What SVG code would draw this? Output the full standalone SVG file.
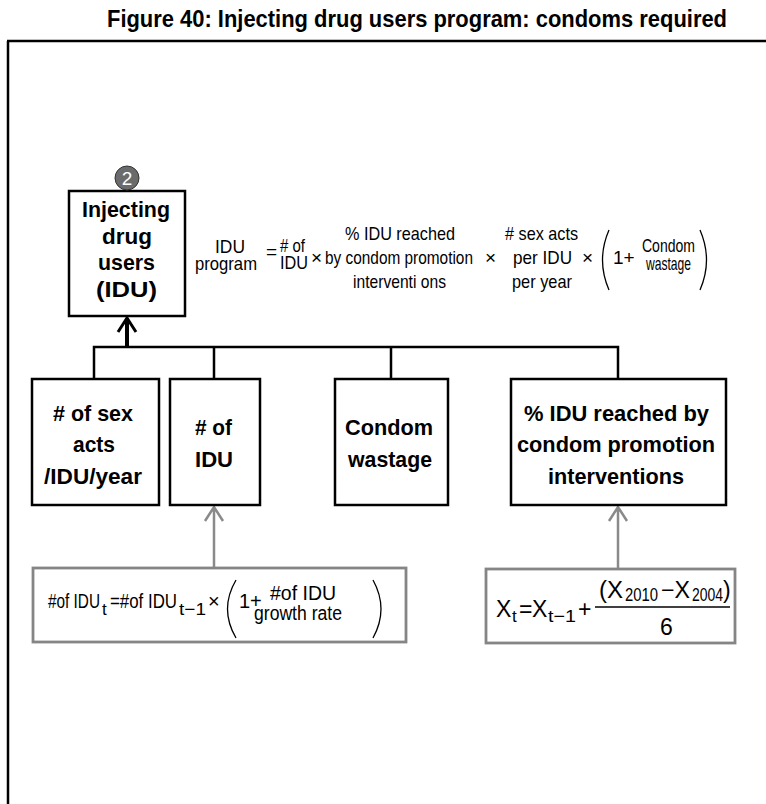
<svg xmlns="http://www.w3.org/2000/svg" width="766" height="804" viewBox="0 0 766 804">
<defs>
<style>
.t{font-family:"Liberation Sans",Arial,sans-serif;fill:#000}
.b{font-weight:bold}
.box{fill:#fff;stroke:#000;stroke-width:2.5}
.gbox{fill:#fff;stroke:#858585;stroke-width:2.8}
.ln{fill:none;stroke:#000;stroke-width:2.5}
.gln{fill:none;stroke:#8a8a8a;stroke-width:2.5}
.f{font-size:19px}
.n{font-size:22px;font-weight:bold}
.s{font-size:20px}
.sub{font-size:17px}
.x{font-size:23px}
.par{fill:none;stroke:#000;stroke-width:1.3}
</style>
</defs>
<rect width="766" height="804" fill="#fff"/>
<text class="t b" x="107" y="27" font-size="24" textLength="620" lengthAdjust="spacingAndGlyphs">Figure 40: Injecting drug users program: condoms required</text>
<path d="M7,41 H766 M8,41 V804" class="ln"/>

<g id="connectors">
<path class="ln" d="M94,379 V347 H618 V379 M214,347 V379 M391,347 V379"/>
<path d="M127,347 V318" stroke="#000" stroke-width="4" fill="none"/>
<path d="M118,332 L127,318 L136,332" stroke="#000" stroke-width="3" fill="none"/>
<path class="gln" d="M214,568 V507 M205,521 L214,507 L223,521"/>
<path class="gln" d="M618,569 V507 M609,521 L618,507 L627,521"/>
</g>

<g id="idu">
<rect class="box" x="69" y="191" width="116" height="125"/>
<text class="t n" x="82" y="217" textLength="88" lengthAdjust="spacingAndGlyphs">Injecting</text>
<text class="t n" x="102" y="244" textLength="50" lengthAdjust="spacingAndGlyphs">drug</text>
<text class="t n" x="98" y="270" textLength="57" lengthAdjust="spacingAndGlyphs">users</text>
<text class="t n" x="96" y="297" textLength="61" lengthAdjust="spacingAndGlyphs">(IDU)</text>
<circle cx="127" cy="178" r="12" fill="#6b6b6b" stroke="#333" stroke-width="1"/>
<text class="t" x="127" y="185" font-size="19" style="fill:#fff" text-anchor="middle">2</text>
</g>

<g id="formula">
<text class="t f" x="215" y="253" textLength="30" lengthAdjust="spacingAndGlyphs">IDU</text>
<text class="t f" x="195" y="270" textLength="62" lengthAdjust="spacingAndGlyphs">program</text>
<text class="t f" x="266" y="258">=</text>
<text class="t f" x="280" y="252" textLength="25" lengthAdjust="spacingAndGlyphs"># of</text>
<text class="t f" x="280" y="269" textLength="28" lengthAdjust="spacingAndGlyphs">IDU</text>
<text class="t f" x="311" y="264">×</text>
<text class="t f" x="345" y="240" textLength="110" lengthAdjust="spacingAndGlyphs">% IDU reached</text>
<text class="t f" x="325" y="264" textLength="148" lengthAdjust="spacingAndGlyphs">by condom promotion</text>
<text class="t f" x="353" y="288" textLength="93" lengthAdjust="spacingAndGlyphs">interventi ons</text>
<text class="t f" x="485" y="264">×</text>
<text class="t f" x="505" y="240" textLength="73" lengthAdjust="spacingAndGlyphs"># sex acts</text>
<text class="t f" x="513" y="264" textLength="59" lengthAdjust="spacingAndGlyphs">per IDU</text>
<text class="t f" x="512" y="288" textLength="60" lengthAdjust="spacingAndGlyphs">per year</text>
<text class="t f" x="582" y="264">×</text>
<path class="par" d="M609,230 Q596,260 609,290"/>
<text class="t f" x="613" y="264">1+</text>
<text class="t f" x="642" y="252" textLength="53" lengthAdjust="spacingAndGlyphs">Condom</text>
<text class="t f" x="646" y="270" textLength="45" lengthAdjust="spacingAndGlyphs">wastage</text>
<path class="par" d="M700,230 Q713,260 700,290"/>
</g>

<g id="sexacts">
<rect class="box" x="32" y="379" width="127" height="126"/>
<text class="t n" x="53" y="421" textLength="80" lengthAdjust="spacingAndGlyphs"># of sex</text>
<text class="t n" x="73" y="452" textLength="42" lengthAdjust="spacingAndGlyphs">acts</text>
<text class="t n" x="44" y="484" textLength="98" lengthAdjust="spacingAndGlyphs">/IDU/year</text>
</g>
<g id="numidu">
<rect class="box" x="170" y="379" width="90" height="126"/>
<text class="t n" x="195" y="435" textLength="37" lengthAdjust="spacingAndGlyphs"># of</text>
<text class="t n" x="195" y="467" textLength="38" lengthAdjust="spacingAndGlyphs">IDU</text>
</g>
<g id="wastage">
<rect class="box" x="335" y="379" width="113" height="126"/>
<text class="t n" x="345" y="435" textLength="88" lengthAdjust="spacingAndGlyphs">Condom</text>
<text class="t n" x="348" y="467" textLength="84" lengthAdjust="spacingAndGlyphs">wastage</text>
</g>
<g id="reached">
<rect class="box" x="511" y="379" width="215" height="126"/>
<text class="t n" x="524" y="421" textLength="185" lengthAdjust="spacingAndGlyphs">% IDU reached by</text>
<text class="t n" x="517" y="452" textLength="198" lengthAdjust="spacingAndGlyphs">condom promotion</text>
<text class="t n" x="548" y="484" textLength="136" lengthAdjust="spacingAndGlyphs">interventions</text>
</g>

<g id="iduformula">
<rect class="gbox" x="33" y="568" width="373" height="74"/>
<text class="t s" x="48" y="608" textLength="52" lengthAdjust="spacingAndGlyphs">#of IDU</text>
<text class="t sub" x="102" y="615">t</text>
<text class="t s" x="110" y="608" textLength="67" lengthAdjust="spacingAndGlyphs">=#of IDU</text>
<text class="t sub" x="179" y="615" textLength="27" lengthAdjust="spacingAndGlyphs">t−1</text>
<text class="t s" x="208" y="608">×</text>
<path class="par" d="M236,580 Q219,609 236,638"/>
<text class="t s" x="239" y="608">1+</text>
<text class="t s" x="270" y="600" textLength="66" lengthAdjust="spacingAndGlyphs">#of IDU</text>
<text class="t s" x="254" y="620" textLength="88" lengthAdjust="spacingAndGlyphs">growth rate</text>
<path class="par" d="M373,580 Q389,609 373,638"/>
</g>

<g id="xformula">
<rect class="gbox" x="486" y="569" width="249" height="74"/>
<text class="t x" x="496" y="617">X</text>
<text class="t sub" x="512" y="622">t</text>
<text class="t x" x="519" y="617">=</text>
<text class="t x" x="532" y="617">X</text>
<text class="t sub" x="548" y="622" textLength="28" lengthAdjust="spacingAndGlyphs">t−1</text>
<text class="t x" x="578" y="617">+</text>
<path d="M595,607 H730" stroke="#000" stroke-width="1.4"/>
<text class="t x" x="599" y="598" textLength="24" lengthAdjust="spacingAndGlyphs">(X</text>
<text class="t" font-size="18" x="625" y="601" textLength="33" lengthAdjust="spacingAndGlyphs">2010</text>
<text class="t x" x="661" y="598" textLength="29" lengthAdjust="spacingAndGlyphs">−X</text>
<text class="t" font-size="18" x="692" y="601" textLength="31" lengthAdjust="spacingAndGlyphs">2004</text>
<text class="t x" x="723" y="598">)</text>
<text class="t x" x="660" y="635">6</text>
</g>
</svg>
